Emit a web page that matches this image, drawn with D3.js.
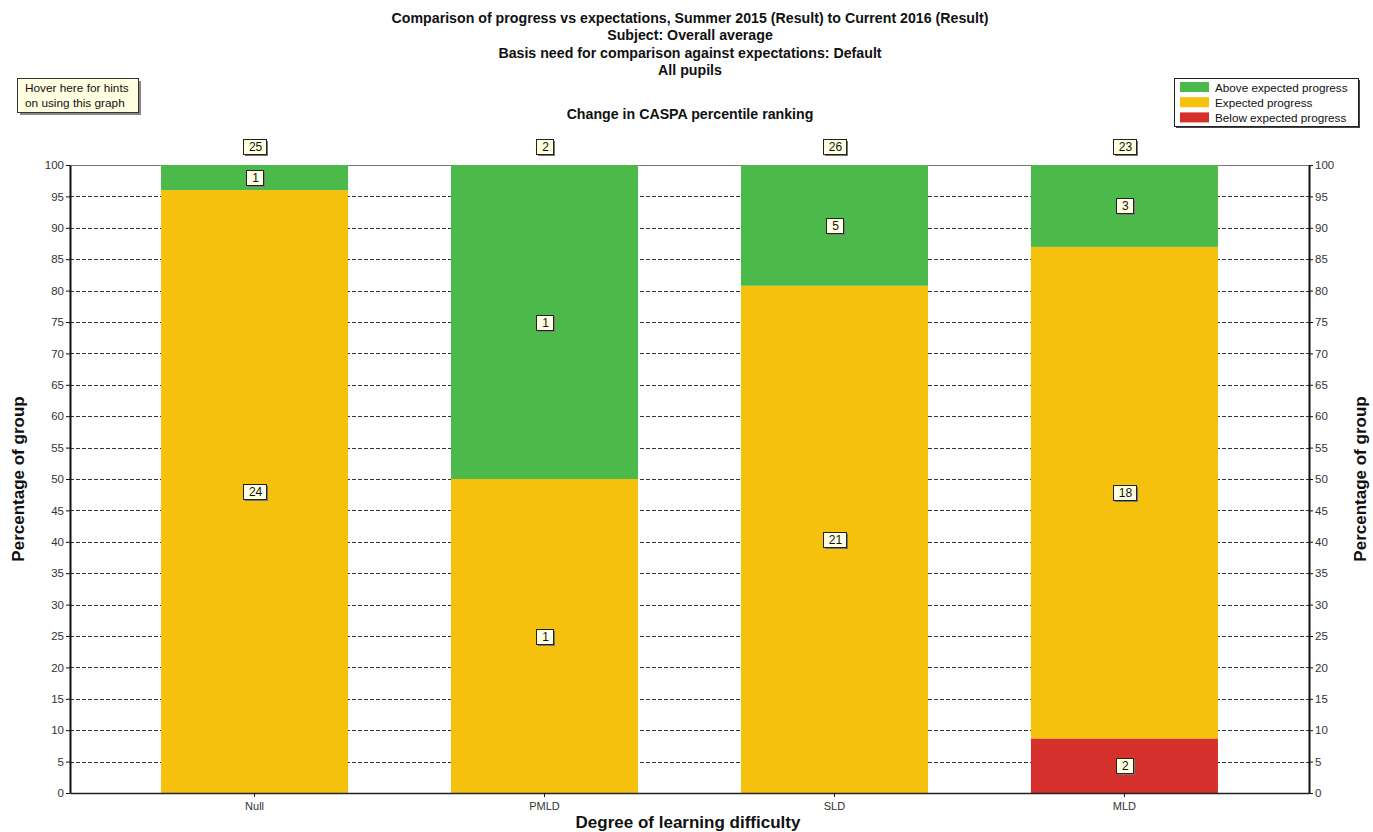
<!DOCTYPE html>
<html><head><meta charset="utf-8">
<script src="https://cdn.jsdelivr.net/npm/d3@7"></script>
<style>
body{margin:0;background:#fff;}
svg{display:block;}
</style></head>
<body>
<svg id="chart" width="1373" height="832"></svg>
<script>
const categories = ["Null", "PMLD", "SLD", "MLD"];
const seriesNames = ["Below expected progress", "Expected progress", "Above expected progress"];
const belowCounts = [0, 0, 0, 2];
const expectedCounts = [24, 1, 21, 18];
const aboveCounts = [1, 1, 5, 3];
const yTicks = [0,5,10,15,20,25,30,35,40,45,50,55,60,65,70,75,80,85,90,95,100];
const titleLines = [
  "Comparison of progress vs expectations, Summer 2015 (Result) to Current 2016 (Result)",
  "Subject: Overall average",
  "Basis need for comparison against expectations: Default",
  "All pupils"
];
const subTitle = "Change in CASPA percentile ranking";
const xTitle = "Degree of learning difficulty";
const yTitle = "Percentage of group";
const hintLines = ["Hover here for hints", "on using this graph"];

const colors = {"Below expected progress":"#d5302c","Expected progress":"#f6c10c","Above expected progress":"#4cba4a"};
const narrow = "'Liberation Sans Narrow','Arial Narrow','Liberation Sans',Arial,sans-serif";
const sans = "'Liberation Sans',Arial,sans-serif";

const svg = d3.select("#chart");
const L = 70, R = 1309, T = 165, B = 793;

const x = d3.scaleBand().domain(categories).range([L, R]).paddingInner(0.355).paddingOuter(0.314);
const y = d3.scaleLinear().domain([0, 100]).range([B, T]);

// data
const rows = categories.map((c, i) => {
  const total = belowCounts[i] + expectedCounts[i] + aboveCounts[i];
  return {cat: c, total,
    "Below expected progress": belowCounts[i],
    "Expected progress": expectedCounts[i],
    "Above expected progress": aboveCounts[i]};
});
const pctRows = rows.map(r => {
  const o = {cat: r.cat};
  seriesNames.forEach(s => o[s] = r[s] / r.total * 100);
  return o;
});
const stacked = d3.stack().keys(seriesNames)(pctRows);

// titles
titleLines.forEach((t, i) => {
  svg.append("text").attr("x", 690).attr("y", 23 + i * 17.3).attr("text-anchor", "middle")
    .attr("font-family", narrow).attr("font-weight", "bold").attr("font-size", 14.2).attr("fill", "#111").text(t);
});
svg.append("text").attr("x", 690).attr("y", 119).attr("text-anchor", "middle")
  .attr("font-family", narrow).attr("font-weight", "bold").attr("font-size", 14.2).attr("fill", "#111").text(subTitle);

// hint box
const hint = svg.append("g");
hint.append("rect").attr("x", 20).attr("y", 81).attr("width", 121).attr("height", 34).attr("fill", "#888");
hint.append("rect").attr("x", 17.5).attr("y", 78.5).attr("width", 121).attr("height", 34).attr("fill", "#ffffe1").attr("stroke", "#333").attr("stroke-width", 1);
hintLines.forEach((t, i) => {
  hint.append("text").attr("x", 25).attr("y", 91.5 + i * 15).attr("font-family", sans).attr("font-size", 11.8).attr("fill", "#111").text(t);
});

// legend
const lg = svg.append("g");
lg.append("rect").attr("x", 1176).attr("y", 80).attr("width", 184).attr("height", 48).attr("fill", "#444");
lg.append("rect").attr("x", 1174.5).attr("y", 78.5).attr("width", 184).attr("height", 48).attr("fill", "#fff").attr("stroke", "#222");
seriesNames.slice().reverse().forEach((s, i) => {
  lg.append("rect").attr("x", 1180).attr("y", 82 + i * 15.2).attr("width", 29).attr("height", 10).attr("fill", colors[s]);
  lg.append("text").attr("x", 1215).attr("y", 91.5 + i * 15.2).attr("font-family", sans).attr("font-size", 11.7).attr("fill", "#111").text(s);
});

// gridlines
svg.append("g").selectAll("line").data(yTicks.filter(v => v > 0 && v < 100)).join("line")
  .attr("x1", L).attr("x2", R).attr("y1", d => Math.round(y(d)) + 0.5).attr("y2", d => Math.round(y(d)) + 0.5)
  .attr("stroke", "#333").attr("stroke-width", 1).attr("stroke-dasharray", "4,2");

// top border
svg.append("line").attr("x1", L).attr("x2", R).attr("y1", T + 0.5).attr("y2", T + 0.5).attr("stroke", "#777");

// bars
svg.append("g").selectAll("g").data(stacked).join("g").attr("fill", d => colors[d.key])
  .selectAll("rect").data(d => d).join("rect")
  .attr("x", d => x(d.data.cat)).attr("width", x.bandwidth())
  .attr("y", d => y(d[1])).attr("height", d => y(d[0]) - y(d[1]));

// axes
const yl = svg.append("g").attr("transform", `translate(${L},0)`).call(d3.axisLeft(y).tickValues(yTicks).tickSize(4).tickSizeOuter(0));
const yr = svg.append("g").attr("transform", `translate(${R},0)`).call(d3.axisRight(y).tickValues(yTicks).tickSize(4).tickSizeOuter(0));
[yl, yr].forEach(g => {
  g.select(".domain").attr("stroke", "#111").attr("stroke-width", 2);
  g.selectAll(".tick line").attr("stroke", "#111");
  g.selectAll(".tick text").attr("font-family", sans).attr("font-size", 11.5).attr("fill", "#333");
});
yl.selectAll(".tick text").attr("x", -6);
yr.selectAll(".tick text").attr("x", 6);

const xa = svg.append("g").attr("transform", `translate(0,${B})`).call(d3.axisBottom(x).tickSize(4).tickSizeOuter(0));
xa.select(".domain").attr("stroke", "#222").attr("stroke-width", 1.5);
xa.selectAll(".tick line").attr("stroke", "#111");
xa.selectAll(".tick text").attr("font-family", sans).attr("font-size", 11).attr("fill", "#333").attr("dy", "0.9em");

// axis titles
svg.append("text").attr("x", 688).attr("y", 828).attr("text-anchor", "middle")
  .attr("font-family", sans).attr("font-weight", "bold").attr("font-size", 17).attr("fill", "#111").text(xTitle);
svg.append("text").attr("transform", `translate(24,479) rotate(-90)`).attr("text-anchor", "middle")
  .attr("font-family", sans).attr("font-weight", "bold").attr("font-size", 17).attr("fill", "#111").text(yTitle);
svg.append("text").attr("transform", `translate(1366,479) rotate(-90)`).attr("text-anchor", "middle")
  .attr("font-family", sans).attr("font-weight", "bold").attr("font-size", 17).attr("fill", "#111").text(yTitle);

// value boxes
function box(cx, cy, txt) {
  const w = txt.length > 1 ? 23 : 17, h = 15;
  const g = svg.append("g");
  g.append("rect").attr("x", Math.round(cx - w / 2) + 2).attr("y", Math.round(cy - h / 2) + 2).attr("width", w).attr("height", h).attr("fill", "#777");
  g.append("rect").attr("x", Math.round(cx - w / 2) + 0.5).attr("y", Math.round(cy - h / 2) + 0.5).attr("width", w).attr("height", h).attr("fill", "#ffffe1").attr("stroke", "#222");
  g.append("text").attr("x", cx + 1).attr("y", cy + 4.5).attr("text-anchor", "middle").attr("font-family", sans).attr("font-size", 12).attr("fill", "#111").text(txt);
}
stacked.forEach((ser, si) => {
  ser.forEach((d, i) => {
    const count = rows[i][ser.key];
    if (count > 0) box(x(d.data.cat) + x.bandwidth() / 2, y((d[0] + d[1]) / 2), String(count));
  });
});
rows.forEach(r => box(x(r.cat) + x.bandwidth() / 2, 146, String(r.total)));
</script>
</body></html>
